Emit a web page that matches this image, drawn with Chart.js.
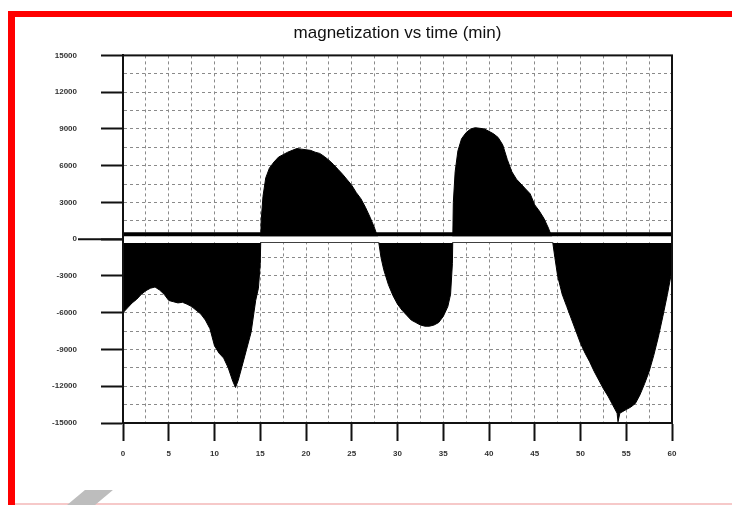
<!DOCTYPE html>
<html>
<head>
<meta charset="utf-8">
<script src="https://cdn.jsdelivr.net/npm/chart.js@4.4.1/dist/chart.umd.min.js"></script>
<style>
  html, body { margin: 0; padding: 0; background: #fff; }
  #wrap { position: relative; width: 732px; height: 505px; overflow: hidden; background: #fff; }
  #chart { position: absolute; left: 0; top: 0; }
  .red-top { position: absolute; left: 8px; top: 11px; width: 724px; height: 6px; background: #f00; }
  .red-left { position: absolute; left: 8px; top: 11px; width: 7px; height: 494px; background: #f00; }
  .red-bottom { position: absolute; left: 15px; top: 503px; width: 717px; height: 2px; background: #f6c9c9; }
  .slant { position: absolute; left: 76px; top: 490px; width: 28px; height: 15px; background: #bdbdbd; transform: skewX(-50deg); }
</style>
</head>
<body>
<div id="wrap">
  <canvas id="chart" width="732" height="505"></canvas>
  <div class="red-top"></div>
  <div class="red-left"></div>
  <div class="red-bottom"></div>
  <div class="slant"></div>
</div>
<script>
  // time in minutes, and the outer edge of the (very noisy) magnetization trace
  const times = [
    0, 0.5, 1, 1.5, 2, 2.5, 3, 3.5, 4, 4.5, 5, 5.5, 6, 6.5, 7, 7.5, 8, 8.5, 9, 9.5,
    10, 10.5, 11, 11.5, 12, 12.3, 12.6, 13, 13.5, 14, 14.5, 14.8, 15, 15.1, 15.3, 15.6,
    16, 16.5, 17, 17.5, 18, 18.5, 19, 19.5, 20, 20.5, 21, 21.5, 22, 22.5, 23, 23.5,
    24, 24.5, 25, 25.5, 26, 26.5, 27, 27.5, 27.9, 28.2, 28.5, 29, 29.5, 30, 30.5, 31,
    31.5, 32, 32.5, 33, 33.5, 34, 34.5, 35, 35.5, 35.8, 36, 36.1, 36.3, 36.6, 37, 37.5,
    38, 38.5, 39, 39.5, 40, 40.5, 41, 41.5, 42, 42.5, 43, 43.5, 44, 44.5, 45, 45.5,
    46, 46.5, 46.9, 47.2, 47.5, 48, 48.5, 49, 49.5, 50, 50.5, 51, 51.5, 52, 52.5, 53,
    53.5, 54, 54.1, 54.3, 55, 55.5, 56, 56.5, 57, 57.5, 58, 58.5, 59, 59.5, 60
  ];
  const magnetization = [
    -6000, -5600, -5200, -4900, -4500, -4200, -4000, -3900, -4150, -4500, -5000, -5100, -5200, -5150, -5300, -5500, -5800, -6100, -6600, -7300,
    -8700, -9300, -9700, -10500, -11600, -12100, -11500, -10400, -9000, -7600, -5000, -4000, -2000, 1500, 3500, 5000,
    5800, 6300, 6700, 6900, 7100, 7250, 7400, 7350, 7300, 7250, 7100, 7000, 6750, 6450, 6100, 5700,
    5300, 4850, 4400, 3800, 3300, 2600, 1800, 900, 0, -1500, -2500, -3700, -4600, -5300, -5800, -6200,
    -6600, -6800, -7000, -7100, -7100, -7000, -6800, -6300, -5500, -4500, -2000, 3000, 5500, 7200, 8200, 8700,
    9000, 9100, 9050, 9000, 8800, 8600, 8300, 7700, 6500, 5500, 4900, 4500, 4100, 3700, 2800, 2300,
    1700, 900, 100, -1500, -3000, -4500, -5500, -6500, -7500, -8500, -9300, -10000, -10800, -11500, -12200, -12800,
    -13500, -14200, -14900, -14200, -13900, -13700, -13400, -12700, -11800, -10800, -9500, -8000, -6300, -4500, -2500
  ];
  const fillLevel = -300;      // the black area is filled down/up to this level
  const lineLevel = 400;       // thick black horizontal line
  const stripLevel = 0;        // white band just under it
  const lineTimes = [0, 60];

  const xMajor = 5, yMajor = 3000;

  const tickFont = { family: 'Liberation Sans', size: 8, weight: 'bold' };

  const frame = {
    id: 'frame',
    afterDatasetsDraw(chart) {
      const { ctx, chartArea: a } = chart;
      const y0 = chart.scales.y.getPixelForValue(0);
      ctx.save();
      ctx.strokeStyle = '#111';
      ctx.lineWidth = 2;
      ctx.strokeRect(a.left, a.top, a.right - a.left, a.bottom - a.top);
      // the zero tick runs further out than the others
      ctx.beginPath();
      ctx.moveTo(78, y0);
      ctx.lineTo(a.left, y0);
      ctx.stroke();
      ctx.restore();
    }
  };

  new Chart(document.getElementById('chart'), {
    type: 'line',
    data: {
      datasets: [
        {
          data: lineTimes.map(t => ({ x: t, y: lineLevel })),
          borderColor: '#000', borderWidth: 4, pointRadius: 0, fill: false
        },
        {
          data: lineTimes.map(t => ({ x: t, y: stripLevel })),
          borderColor: '#fff', borderWidth: 6, pointRadius: 0, fill: false
        },
        {
          data: times.map((t, i) => ({ x: t, y: magnetization[i] })),
          borderColor: '#000', borderWidth: 1, backgroundColor: '#000',
          pointRadius: 0, tension: 0, fill: { value: fillLevel }
        }
      ]
    },
    options: {
      responsive: false,
      animation: false,
      layout: { padding: { left: 0, right: 60, top: 0, bottom: 0 } },
      plugins: {
        legend: { display: false },
        tooltip: { enabled: false },
        title: {
          display: true,
          fullSize: false,
          text: 'magnetization vs time (min)',
          color: '#111',
          font: { family: 'Liberation Sans', size: 17, weight: 'normal' },
          padding: { top: 23, bottom: 12 }
        }
      },
      scales: {
        x: {
          type: 'linear', min: 0, max: 60,
          afterFit(s) { s.height = 82; },
          ticks: {
            stepSize: 2.5, autoSkip: false, maxRotation: 0, padding: 8,
            color: '#333', font: tickFont,
            callback: v => (v % xMajor === 0 ? v : '')
          },
          grid: {
            color: '#8a8a8a', lineWidth: 1, tickLength: 18, tickWidth: 2,
            tickColor: c => (c.tick && c.tick.value % xMajor === 0 ? '#111' : 'rgba(0,0,0,0)')
          },
          border: { color: '#111', width: 2, dash: [3, 3] }
        },
        y: {
          type: 'linear', min: -15000, max: 15000,
          afterFit(s) { s.width = 123; },
          ticks: {
            stepSize: 1500, autoSkip: false, padding: 24,
            color: '#333', font: tickFont,
            callback: v => (v % yMajor === 0 ? v : '')
          },
          grid: {
            color: '#8a8a8a', lineWidth: 1, tickLength: 22, tickWidth: 2,
            tickColor: c => (c.tick && c.tick.value % yMajor === 0 ? '#111' : 'rgba(0,0,0,0)')
          },
          border: { color: '#111', width: 2, dash: [3, 3] }
        }
      }
    },
    plugins: [frame]
  });
</script>
</body>
</html>
